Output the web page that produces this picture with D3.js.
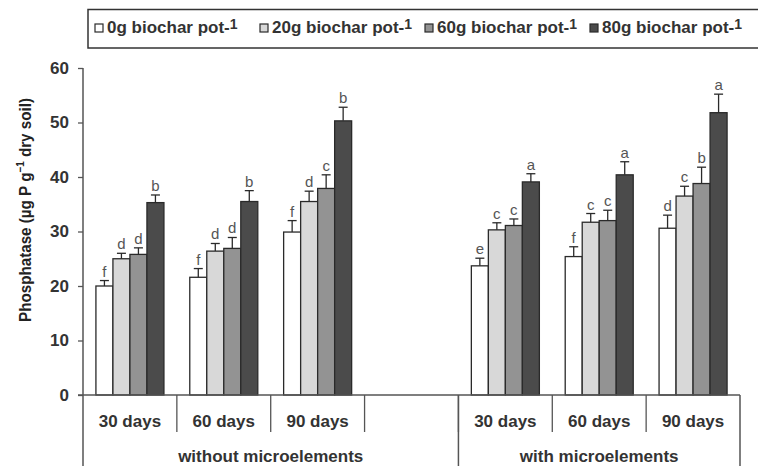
<!DOCTYPE html>
<html>
<head>
<meta charset="utf-8">
<script src="https://cdn.jsdelivr.net/npm/d3@7"></script>
<style>
  body { margin: 0; background: #fff; }
  svg { display: block; font-family: "Liberation Sans", Arial, sans-serif; }
</style>
</head>
<body>
<svg id="chart" width="758" height="466"></svg>
<script>
// slots along the x axis (slot "gap" is left empty)
const slots = ["w30", "w60", "w90", "gap", "m30", "m60", "m90"];
const periodLabels = ["30 days", "60 days", "90 days", "", "30 days", "60 days", "90 days"];
const treatmentLabels = ["without microelements", "with microelements"];
const treatmentSpans = [[0, 4], [4, 7]];

const series = ["0g", "20g", "60g", "80g"];
const seriesLabels = ["0g biochar pot", "20g biochar pot", "60g biochar pot", "80g biochar pot"];

// mean values
const dose0  = [20.0, 21.6, 29.9, null, 23.7, 25.4, 30.6];
const dose20 = [25.0, 26.4, 35.5, null, 30.3, 31.7, 36.5];
const dose60 = [25.8, 26.9, 37.9, null, 31.1, 32.0, 38.8];
const dose80 = [35.3, 35.5, 50.3, null, 39.1, 40.4, 51.8];

// error bars (+)
const err0  = [1.0, 1.6, 2.1, null, 1.4, 1.8, 2.4];
const err20 = [1.0, 1.4, 1.9, null, 1.3, 1.6, 1.8];
const err60 = [1.2, 2.0, 2.5, null, 1.2, 1.9, 3.0];
const err80 = [1.4, 2.0, 2.5, null, 1.5, 2.4, 3.4];

// significance letters
const let0  = ["f", "f", "f", null, "e", "f", "d"];
const let20 = ["d", "d", "d", null, "c", "c", "c"];
const let60 = ["d", "d", "c", null, "c", "c", "b"];
const let80 = ["b", "b", "b", null, "a", "a", "a"];

const yTicks = [0, 10, 20, 30, 40, 50, 60];

const values = [dose0, dose20, dose60, dose80];
const errors = [err0, err20, err60, err80];
const letters = [let0, let20, let60, let80];
const colors = ["#ffffff", "#d8d8d8", "#939393", "#4b4b4b"];

const svg = d3.select("#chart");
const axisColor = "#555";

const x = d3.scaleBand()
  .domain(slots)
  .range([83, 740]);

const x1 = d3.scaleBand()
  .domain(series)
  .range([0, x.bandwidth()])
  .paddingInner(0)
  .paddingOuter(0.76);

const y = d3.scaleLinear()
  .domain([0, 60])
  .range([395, 68]);

// bars
const bars = [];
values.forEach((vals, s) => {
  vals.forEach((v, i) => {
    if (v == null) return;
    bars.push({slot: slots[i], s: s, value: v, err: errors[s][i], letter: letters[s][i]});
  });
});

const g = svg.append("g");

g.selectAll("rect.bar")
  .data(bars)
  .enter()
  .append("rect")
    .attr("class", "bar")
    .attr("x", d => x(d.slot) + x1(series[d.s]))
    .attr("y", d => y(d.value))
    .attr("width", x1.bandwidth())
    .attr("height", d => y(0) - y(d.value))
    .attr("fill", d => colors[d.s])
    .attr("stroke", "#2a2a2a")
    .attr("stroke-width", 1.3);

// error bars
const errG = g.append("g").attr("stroke", "#2a2a2a").attr("stroke-width", 1.3);
errG.selectAll("line.stem")
  .data(bars)
  .enter()
  .append("line")
    .attr("x1", d => x(d.slot) + x1(series[d.s]) + x1.bandwidth() / 2)
    .attr("x2", d => x(d.slot) + x1(series[d.s]) + x1.bandwidth() / 2)
    .attr("y1", d => y(d.value))
    .attr("y2", d => y(d.value + d.err));
errG.selectAll("line.cap")
  .data(bars)
  .enter()
  .append("line")
    .attr("x1", d => x(d.slot) + x1(series[d.s]) + x1.bandwidth() / 2 - 4.5)
    .attr("x2", d => x(d.slot) + x1(series[d.s]) + x1.bandwidth() / 2 + 4.5)
    .attr("y1", d => y(d.value + d.err))
    .attr("y2", d => y(d.value + d.err));

// letters
g.selectAll("text.letter")
  .data(bars)
  .enter()
  .append("text")
    .attr("x", d => x(d.slot) + x1(series[d.s]) + x1.bandwidth() / 2)
    .attr("y", d => y(d.value + d.err) - 4)
    .attr("text-anchor", "middle")
    .attr("font-size", 15)
    .attr("fill", "#555")
    .text(d => d.letter);

// y axis
const yAxis = svg.append("g")
  .attr("transform", "translate(83,0)")
  .call(d3.axisLeft(y).tickValues(yTicks).tickSize(5).tickPadding(9).tickSizeOuter(0));
yAxis.select(".domain").remove();
yAxis.selectAll("line").attr("stroke", axisColor).attr("stroke-width", 1.3);
yAxis.selectAll("text")
  .attr("font-size", 17)
  .attr("font-weight", "bold")
  .attr("font-family", "Liberation Sans, Arial, sans-serif")
  .attr("fill", "#333");

svg.append("line")
  .attr("x1", 83).attr("x2", 83)
  .attr("y1", y(60)).attr("y2", 466)
  .attr("stroke", axisColor).attr("stroke-width", 1.5);

// baseline
svg.append("line")
  .attr("x1", 78).attr("x2", x.range()[1])
  .attr("y1", y(0)).attr("y2", y(0))
  .attr("stroke", axisColor).attr("stroke-width", 1.5);

// period dividers (short) and labels
const periodG = svg.append("g");
periodG.selectAll("line")
  .data(slots.slice(1))
  .enter()
  .append("line")
    .attr("x1", d => x(d)).attr("x2", d => x(d))
    .attr("y1", y(0)).attr("y2", 432)
    .attr("stroke", axisColor).attr("stroke-width", 1.3);
periodG.selectAll("text")
  .data(slots)
  .enter()
  .append("text")
    .attr("x", d => x(d) + x.bandwidth() / 2)
    .attr("y", 427)
    .attr("text-anchor", "middle")
    .attr("font-size", 17)
    .attr("font-weight", "bold")
    .attr("fill", "#333")
    .text((d, i) => periodLabels[i]);

// treatment dividers (long) and labels
treatmentSpans.forEach((span, i) => {
  const x0 = x(slots[span[0]]);
  const xEnd = span[1] < slots.length ? x(slots[span[1]]) : x.range()[1];
  if (i > 0) {
    svg.append("line")
      .attr("x1", x0).attr("x2", x0).attr("y1", y(0)).attr("y2", 466)
      .attr("stroke", axisColor).attr("stroke-width", 1.5);
  }
  if (span[1] >= slots.length) {
    svg.append("line")
      .attr("x1", xEnd).attr("x2", xEnd).attr("y1", y(0)).attr("y2", 466)
      .attr("stroke", axisColor).attr("stroke-width", 1.5);
  }
  svg.append("text")
    .attr("x", (x0 + xEnd) / 2)
    .attr("y", 462)
    .attr("text-anchor", "middle")
    .attr("font-size", 17)
    .attr("font-weight", "bold")
    .attr("fill", "#333")
    .text(treatmentLabels[i]);
});

// y axis title
const yTitle = svg.append("text")
  .attr("transform", "translate(31,210) rotate(-90)")
  .attr("text-anchor", "middle")
  .attr("font-size", 17)
  .attr("font-weight", "bold")
  .attr("fill", "#222")
  .attr("textLength", 224)
  .attr("lengthAdjust", "spacingAndGlyphs");
yTitle.append("tspan").text("Phosphatase (µg P g");
yTitle.append("tspan").attr("dy", -7).attr("font-size", 11).text("\u22121");
yTitle.append("tspan").attr("dy", 7).text(" dry soil)");

// legend
svg.append("rect")
  .attr("x", 88).attr("y", 9.5)
  .attr("width", 680).attr("height", 38.5)
  .attr("fill", "none")
  .attr("stroke", "#333").attr("stroke-width", 1.5);

const legendX = d3.scaleBand()
  .domain(series)
  .range([95, 755]);

seriesLabels.forEach((label, i) => {
  const lx = legendX(series[i]);
  svg.append("rect")
    .attr("x", lx).attr("y", 24)
    .attr("width", 8).attr("height", 8)
    .attr("fill", colors[i])
    .attr("stroke", "#2a2a2a").attr("stroke-width", 1.2);
  const t = svg.append("text")
    .attr("x", lx + 12).attr("y", 33)
    .attr("font-size", 17)
    .attr("font-weight", "bold")
    .attr("fill", "#333");
  t.append("tspan").text(label + "-");
  t.append("tspan").attr("dy", -4).attr("font-size", 14).text("1");
});
</script>
</body>
</html>
